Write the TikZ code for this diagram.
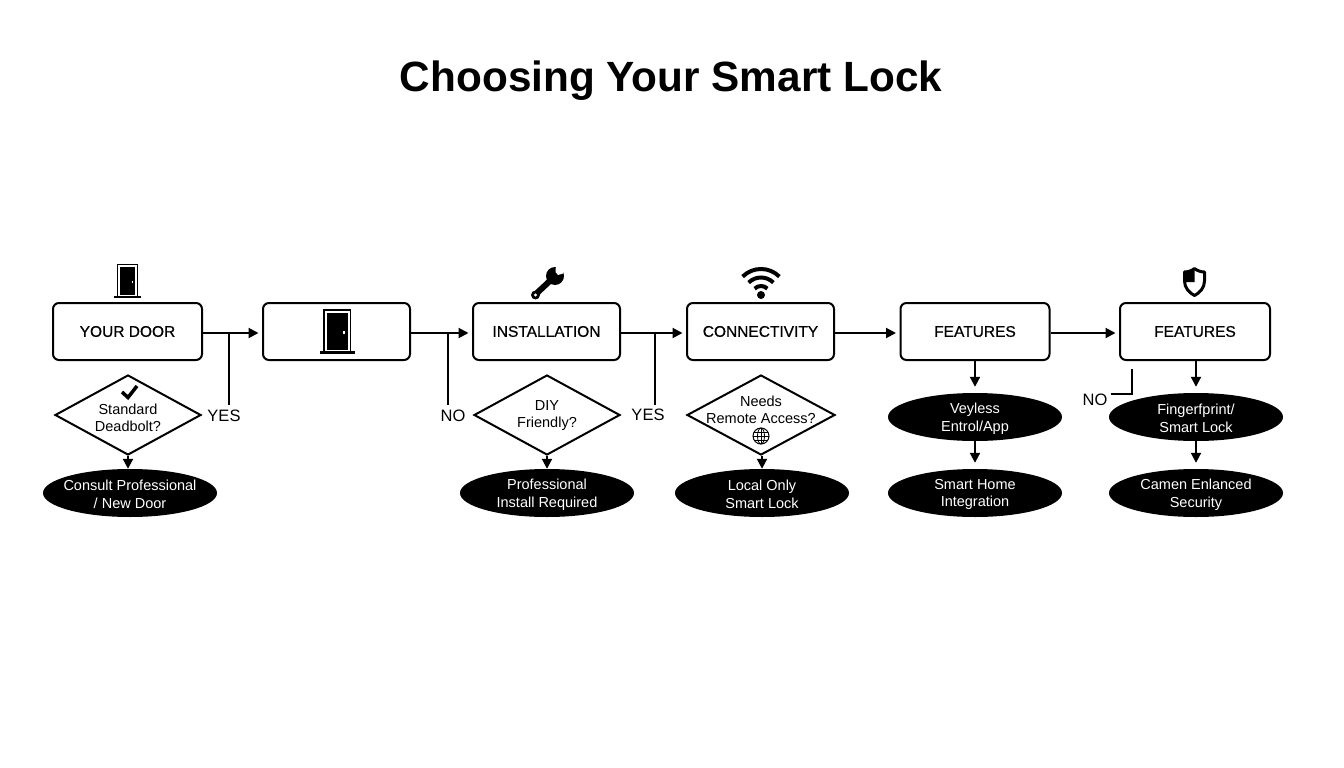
\documentclass[tikz,border=0pt]{standalone}
\usepackage{fontspec}
\setmainfont{Liberation Sans}
\newfontfamily\boxfont[FakeBold=0.6]{Liberation Sans}
\usetikzlibrary{arrows.meta}
\usetikzlibrary{shapes.geometric}

\tikzset{
  stage/.style={draw, line width=2pt, rounded corners=6pt, minimum width=149pt, minimum height=57pt,
    inner sep=0pt, font=\boxfont\fontsize{15.5}{18}\selectfont},
  choice/.style={draw, line width=2pt, diamond, aspect=1.8, inner sep=0pt, minimum width=146pt, minimum height=80pt},
  choicetext/.style={align=center, inner sep=0pt, font=\fontsize{14.5}{17}\selectfont},
  pill/.style={ellipse, fill=black, inner sep=0pt, minimum width=174pt, minimum height=48pt},
  pilltext/.style={text=white, align=center, inner sep=0pt, yshift=-1.5pt, font=\fontsize{14.5}{17.5}\selectfont},
  branchlabel/.style={inner sep=0pt, font=\fontsize{16.5}{19}\selectfont},
  flow/.style={line width=2pt, -{Triangle[length=10pt,width=10pt]}},
  rowflow/.style={flow, shorten >=3.5pt},
  branch/.style={line width=2pt},
  dooricon/.pic={
    \fill (-14,-42) rectangle (14,0);
    \fill[white] (-12.5,-40.5) rectangle (12.5,0);
    \fill (-10.5,-38.5) rectangle (10.5,-1.5);
    \fill[white] (5.5,-20) rectangle (7.5,-17);
    \fill (-17.5,0) rectangle (17.5,2.5);
  }
}

\begin{document}
\begin{tikzpicture}[x=1pt,y=-1pt]
\useasboundingbox (0,0) rectangle (1344,768);

\node[inner sep=0pt, font=\bfseries\fontsize{42.3}{50}\selectfont] (title) at (671,81) {Choosing Your Smart Lock};

% top row
\node[stage] (door)     at (127.5,331.5) {YOUR DOOR};
\node[stage, minimum width=147pt] (doorpic) at (336.5,331.5) {};
\node[stage, minimum width=147pt] (install) at (546.5,331.5) {INSTALLATION};
\node[stage, minimum width=147pt] (connect) at (760.5,331.5) {CONNECTIVITY};
\node[stage] (features) at (975,331.5) {FEATURES};
\node[stage, minimum width=150pt] (security) at (1195,331.5) {FEATURES};

\draw[rowflow] ([yshift=-1.5pt]door.east)     -- ([yshift=-1.5pt]doorpic.west);
\draw[rowflow] ([yshift=-1.5pt]doorpic.east)  -- ([yshift=-1.5pt]install.west);
\draw[rowflow] ([yshift=-1.5pt]install.east)  -- ([yshift=-1.5pt]connect.west);
\draw[rowflow] ([yshift=-1.5pt]connect.east)  -- ([yshift=-1.5pt]features.west);
\draw[rowflow] ([yshift=-1.5pt]features.east) -- ([yshift=-1.5pt]security.west);

% questions
\node[choice] (deadbolt) at (128,415) {};
\node[choice] (diy)      at (547,415) {};
\node[choice, minimum width=148pt] (remote) at (761,415) {};
\node[choicetext] (deadbolt-text) at (128,418) {Standard\\Deadbolt?};
\node[choicetext] (diy-text)      at (547,416) {DIY\\Friendly?};
\node[choicetext] (remote-text)   at (761,410) {Needs\\Remote Access?};

% results
\node[pill] (consult)  at (130,493) {};
\node[pill] (pro)      at (547,493) {};
\node[pill] (local)    at (762,493) {};
\node[pill] (keyless)  at (975,417) {};
\node[pill] (home)     at (975,493) {};
\node[pill] (finger)   at (1196,417) {};
\node[pill] (camera)   at (1196,493) {};
\node[pilltext] (consult-text) at (consult) {Consult Professional\\/ New Door};
\node[pilltext] (pro-text)     at (pro)     {Professional\\Install Required};
\node[pilltext] (local-text)   at (local)   {Local Only\\Smart Lock};
\node[pilltext] (keyless-text) at (keyless) {Veyless\\Entrol/App};
\node[pilltext] (home-text)    at (home)    {Smart Home\\Integration};
\node[pilltext] (finger-text)  at (finger)  {Fingerfprint/\\Smart Lock};
\node[pilltext] (camera-text)  at (camera)  {Camen Enlanced\\Security};

\draw[flow] (deadbolt.south) -- (consult.north -| deadbolt.south);
\draw[flow] (diy.south)      -- (pro.north);
\draw[flow] (remote.south -| local.north) -- (local.north);
\draw[flow] (features.south) -- ([yshift=6pt]keyless.north);
\draw[flow] (keyless.south)  -- ([yshift=6pt]home.north);
\draw[flow] (security.south -| finger.north) -- ([yshift=6pt]finger.north);
\draw[flow] (finger.south)   -- ([yshift=6pt]camera.north);

% branches
\node[branchlabel] (yes-a) at (224,416) {YES};
\node[branchlabel] (no-a)  at (453,416) {NO};
\node[branchlabel] (yes-b) at (648,415) {YES};
\node[branchlabel] (no-b)  at (1095,400) {NO};
\coordinate (yes-a-top) at (229,333);
\coordinate (no-a-top)  at (448,333);
\coordinate (yes-b-top) at (655,333);
\coordinate (no-b-top)  at (1132,369);
\draw[branch] (yes-a-top) -- (229,405);
\draw[branch] (no-a-top)  -- (448,405);
\draw[branch] (yes-b-top) -- (655,405);
\draw[branch] (no-b-top) |- (1111,394);

% icons
\pic[scale=0.76] (smalldoor) at (127.5,296) {dooricon};
\pic (bigdoor) at (337,351) {dooricon};

% wrench
\begin{scope}[shift={(555,276)},y=1pt]
\fill (0,0) circle (9);
\fill[white] (0.5,4) -- (3,1) -- (8,2.5) -- (12,12) -- (1,12) -- cycle;
\draw[line width=6pt] (-2,-2) -- (-18,-17);
\fill (-19.5,-19) circle (4.5);
\fill[white] (-19.5,-19) circle (1.7);
\end{scope}

% wifi
\begin{scope}[shift={(761,295)},y=1pt]
\fill (0,0) circle (4);
\draw[line width=4pt] (135:9) arc[start angle=135, end angle=45, radius=9];
\draw[line width=4pt] (135:17.5) arc[start angle=135, end angle=45, radius=17.5];
\draw[line width=4pt] (135:26) arc[start angle=135, end angle=45, radius=26];
\end{scope}

% shield
\begin{scope}[shift={(1194.5,282)},y=1pt]
\draw[line width=3pt, line join=round] (0,13.5) .. controls (-3,11) and (-7,10) .. (-10,10)
  -- (-10,1) .. controls (-10,-6) and (-5,-11) .. (0,-13.5)
  .. controls (5,-11) and (10,-6) .. (10,1) -- (10,10)
  .. controls (7,10) and (3,11) .. (0,13.5) -- cycle;
\fill (0,13.5) .. controls (-3,11) and (-7,10) .. (-10,10) -- (-10,0) -- (0,0) -- cycle;
\end{scope}

% tick
\begin{scope}[shift={(129,392)},y=1pt]
\draw[line width=3.5pt] (-7,0) -- (-1,-5.5) -- (8,6);
\end{scope}

% globe
\begin{scope}[shift={(761,436)},y=1pt]
\draw[line width=1pt] (0,0) circle (8);
\draw[line width=0.8pt] (0,0) ellipse (3.5 and 8);
\draw[line width=0.8pt] (-8,0) -- (8,0);
\draw[line width=0.8pt] (-7,4) -- (7,4);
\draw[line width=0.8pt] (-7,-4) -- (7,-4);
\draw[line width=0.8pt] (0,-8) -- (0,8);
\end{scope}
\end{tikzpicture}
\end{document}
